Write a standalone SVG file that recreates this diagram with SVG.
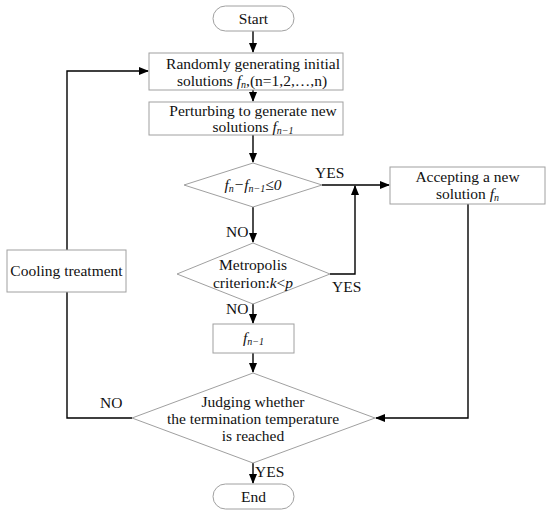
<svg xmlns="http://www.w3.org/2000/svg" width="550" height="517" viewBox="0 0 550 517">
<defs>
<marker id="ah" markerWidth="10" markerHeight="8" refX="9" refY="4" orient="auto" markerUnits="userSpaceOnUse">
<path d="M0,0 L10,4 L0,8 Z" fill="#000"/>
</marker>
<style>
.box{fill:#fff;stroke:#a0a0a0;stroke-width:1}
.t{font-family:"Liberation Serif","DejaVu Serif",serif;font-size:15.5px;fill:#111;text-anchor:middle}
.l{font-family:"Liberation Serif","DejaVu Serif",serif;font-size:15.5px;fill:#111}
.i{font-style:italic}
.s{font-size:10px;font-style:italic}
.c{fill:none;stroke:#000;stroke-width:1.4}
</style>
</defs>
<rect width="550" height="517" fill="#fff"/>
<g id="connectors">
<path class="c" d="M253,31 V52" marker-end="url(#ah)"/>
<path class="c" d="M253,90 V101" marker-end="url(#ah)"/>
<path class="c" d="M253,135 V162" marker-end="url(#ah)"/>
<path class="c" d="M322,185 H389" marker-end="url(#ah)"/>
<path class="c" d="M253,207 V242" marker-end="url(#ah)"/>
<path class="c" d="M330,274 H355 V186" marker-end="url(#ah)"/>
<path class="c" d="M253,303 V323" marker-end="url(#ah)"/>
<path class="c" d="M253,353 V372" marker-end="url(#ah)"/>
<path class="c" d="M468,204 V418 H376" marker-end="url(#ah)"/>
<path class="c" d="M253,463 V483" marker-end="url(#ah)"/>
<path class="c" d="M132,418 H67 V292"/>
<path class="c" d="M67,250 V71 H148" marker-end="url(#ah)"/>
<text class="l" x="315" y="178">YES</text>
<text class="l" x="226" y="237">NO</text>
<text class="l" x="332" y="292">YES</text>
<text class="l" x="226" y="314">NO</text>
<text class="l" x="100" y="408">NO</text>
<text class="l" x="255" y="477">YES</text>
</g>
<g id="start">
<rect class="box" x="213" y="6" width="81" height="25" rx="12.5"/>
<text class="t" x="253.5" y="24">Start</text>
</g>
<g id="init">
<rect class="box" x="149" y="53" width="194" height="37"/>
<text class="t" x="253" y="69">Randomly generating initial</text>
<text class="t" x="252" y="86">solutions <tspan class="i">f</tspan><tspan class="s" dy="2">n</tspan><tspan dy="-2">,(n=1,2,…,n)</tspan></text>
</g>
<g id="perturb">
<rect class="box" x="149" y="102" width="194" height="33"/>
<text class="t" x="253" y="116">Perturbing to generate new</text>
<text class="t" x="253" y="132">solutions <tspan class="i">f</tspan><tspan class="s" dy="2">n−1</tspan></text>
</g>
<g id="cond1">
<polygon class="box" points="253,163 322,185 253,207 184,185"/>
<text class="t" x="253" y="190"><tspan class="i">f</tspan><tspan class="s" dy="2">n</tspan><tspan class="i" dy="-2">−f</tspan><tspan class="s" dy="2">n−1</tspan><tspan class="i" dy="-2">≤0</tspan></text>
</g>
<g id="accept">
<rect class="box" x="390" y="167" width="155" height="37"/>
<text class="t" x="467.5" y="182">Accepting a new</text>
<text class="t" x="467.5" y="199">solution <tspan class="i">f</tspan><tspan class="s" dy="2">n</tspan></text>
</g>
<g id="metropolis">
<polygon class="box" points="253,243 330,274 253,304 177,274"/>
<text class="t" x="253" y="270">Metropolis</text>
<text class="t" x="253" y="288">criterion:<tspan class="i">k</tspan>&lt;<tspan class="i">p</tspan></text>
</g>
<g id="fn1">
<rect class="box" x="213" y="324" width="81" height="29"/>
<text class="t" x="253.5" y="343"><tspan class="i">f</tspan><tspan class="s" dy="2">n−1</tspan></text>
</g>
<g id="cooling">
<rect class="box" x="7" y="250" width="119" height="42"/>
<text class="t" x="66.5" y="276">Cooling treatment</text>
</g>
<g id="judge">
<polygon class="box" points="253,373 375,418 253,463 132,418"/>
<text class="t" x="253" y="407">Judging whether</text>
<text class="t" x="253" y="424">the termination temperature</text>
<text class="t" x="253" y="441">is reached</text>
</g>
<g id="end">
<rect class="box" x="213" y="484" width="81" height="25" rx="12.5"/>
<text class="t" x="253.5" y="502">End</text>
</g>
</svg>
